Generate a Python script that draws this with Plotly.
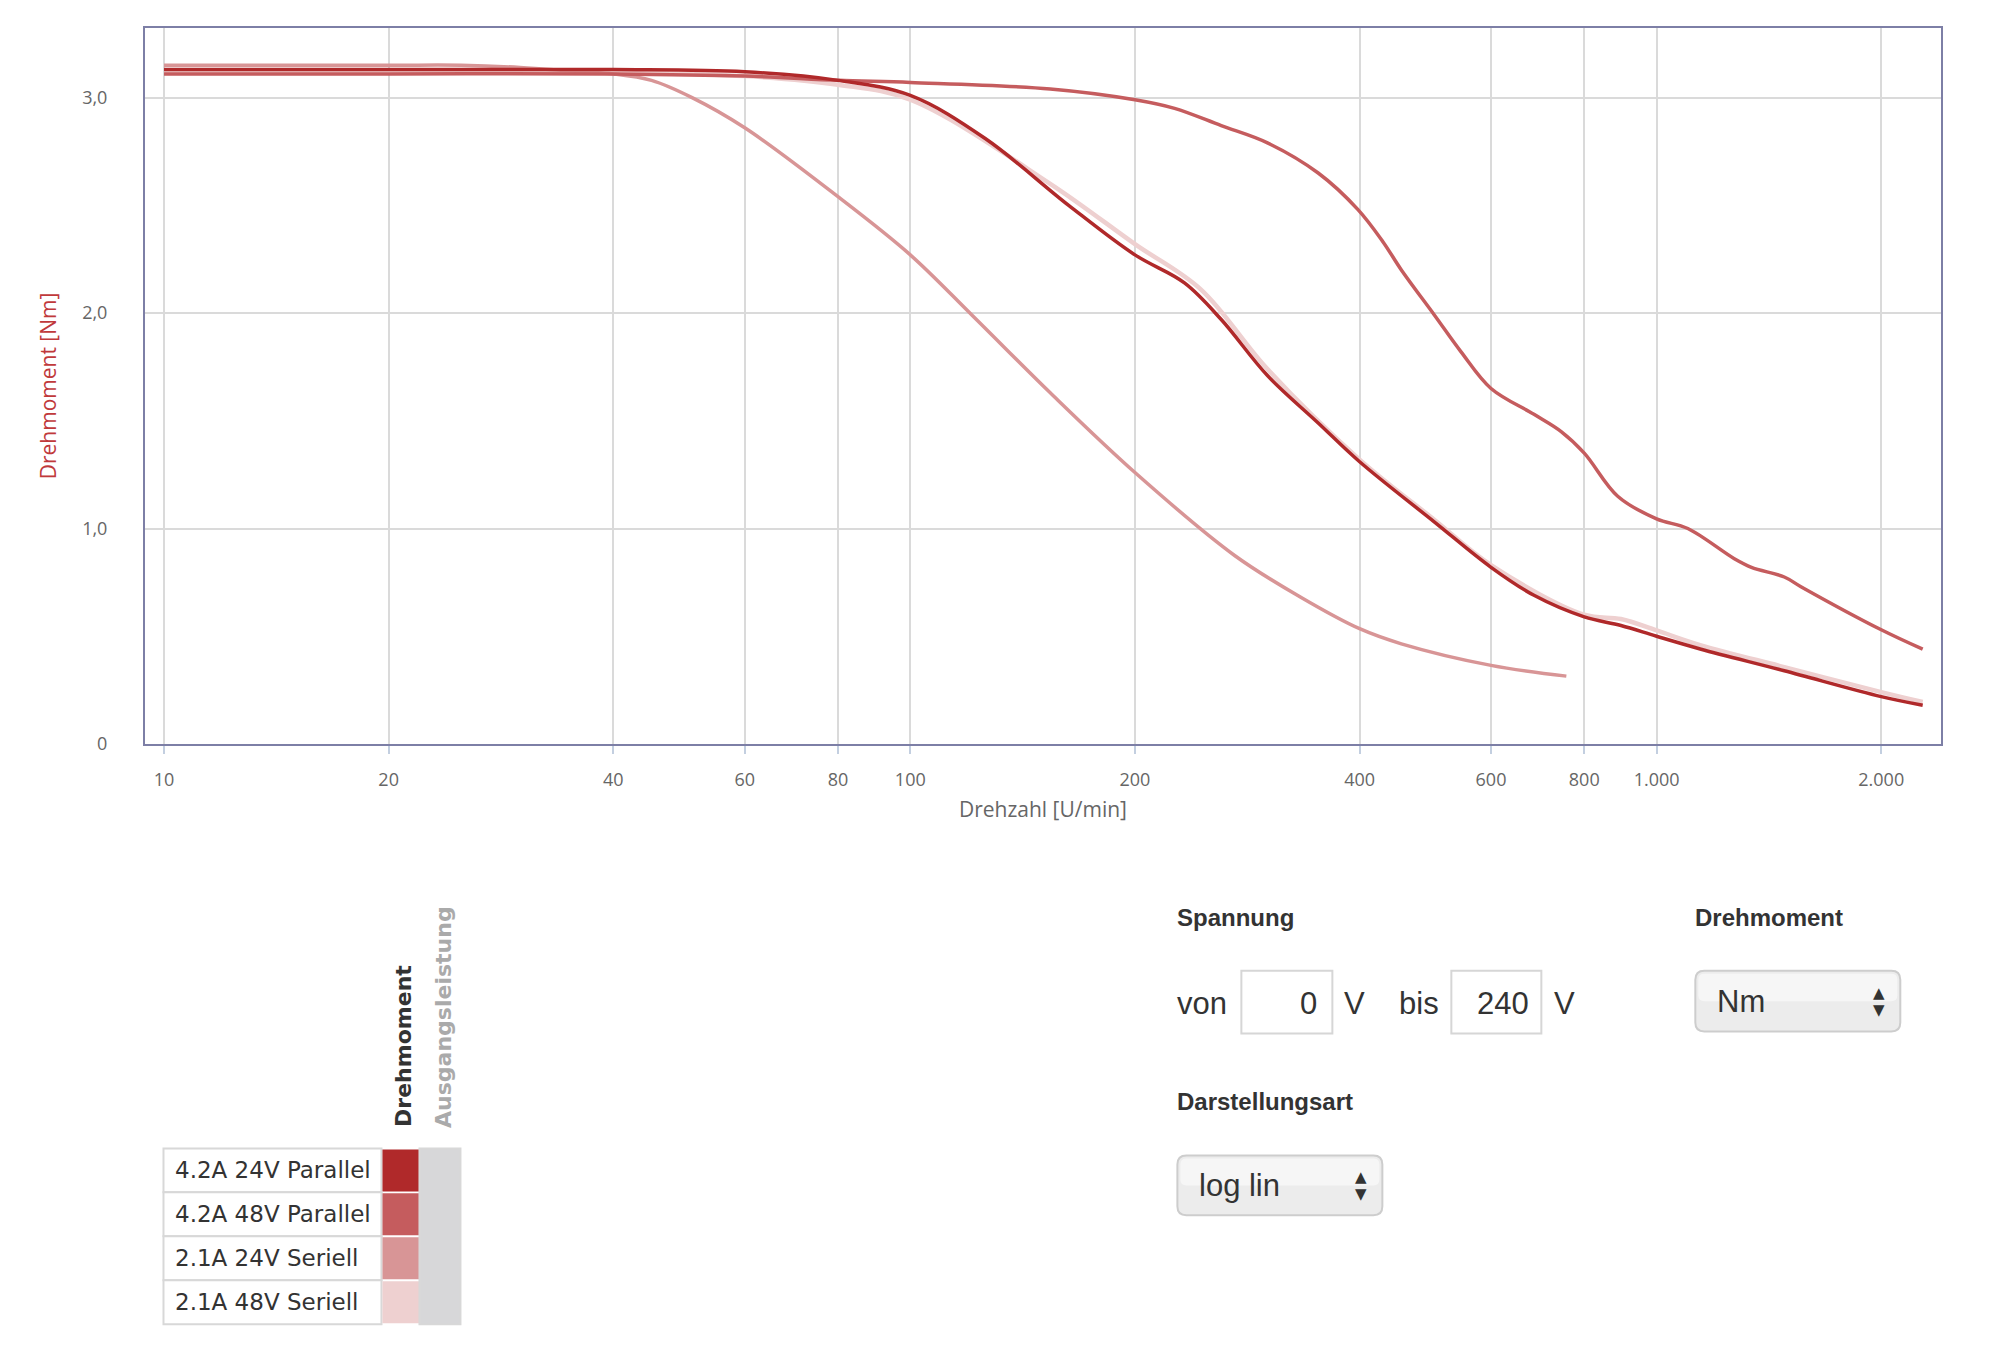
import math
import plotly.graph_objects as go

# Drehzahl [U/min] / Drehmoment [Nm] je Kennlinie
names = ["4.2A 24V Parallel", "4.2A 48V Parallel", "2.1A 24V Seriell", "2.1A 48V Seriell"]
colors = ["#b0292a", "#c55c5e", "#d89596", "#eed0d0"]

par24_x = [10, 20, 40, 60, 80, 100, 126, 163, 200, 233, 261, 301, 352, 400, 504, 600, 685, 800, 896, 1000, 1147, 1483, 2000, 2273]
par24_y = [3.13, 3.13, 3.13, 3.12, 3.08, 3.01, 2.81, 2.50, 2.27, 2.14, 1.97, 1.71, 1.49, 1.31, 1.03, 0.82, 0.69, 0.59, 0.55, 0.50, 0.44, 0.34, 0.22, 0.18]

par48_x = [10, 20, 40, 60, 80, 100, 154, 200, 226, 261, 301, 352, 398, 430, 455, 504, 547, 600, 685, 745, 800, 887, 1000, 1101, 1271, 1340, 1483, 1561, 2000, 2273]
par48_y = [3.11, 3.11, 3.11, 3.10, 3.08, 3.07, 3.04, 2.99, 2.95, 2.87, 2.79, 2.65, 2.48, 2.33, 2.20, 1.99, 1.82, 1.65, 1.53, 1.45, 1.35, 1.15, 1.045, 1.0, 0.86, 0.82, 0.775, 0.73, 0.53, 0.44]

ser24_x = [10, 20, 25, 30, 36, 40, 45, 51, 60, 80, 100, 121, 154, 200, 272, 334, 400, 455, 600, 757]
ser24_y = [3.15, 3.15, 3.15, 3.14, 3.12, 3.11, 3.08, 3.00, 2.86, 2.54, 2.27, 1.99, 1.63, 1.26, 0.875, 0.68, 0.535, 0.465, 0.365, 0.315]

ser48_x = [10, 20, 40, 60, 80, 100, 154, 200, 245, 301, 400, 504, 600, 800, 896, 1000, 1147, 1483, 2000, 2273]
ser48_y = [3.12, 3.12, 3.115, 3.10, 3.06, 2.99, 2.60, 2.32, 2.11, 1.74, 1.32, 1.04, 0.83, 0.60, 0.58, 0.527, 0.458, 0.357, 0.241, 0.195]

x_ticks = [10, 20, 40, 60, 80, 100, 200, 400, 600, 800, 1000, 2000]
x_labels = ["10", "20", "40", "60", "80", "100", "200", "400", "600", "800", "1.000", "2.000"]
y_ticks = [0, 1, 2, 3]
y_labels = ["0", "1,0", "2,0", "3,0"]

# page offset of the plot div (body margin) and plot area in screen pixels
OFF = 8
W, H = 2000 - 2 * OFF, 1358 - 2 * OFF
L, R, T, B = 144.5, 1940.7, 27.5, 744.5
DY = 2.5  # correction for the elements below the chart


def px(x):
    return (x - L) / (R - L)


def py(y):
    return (B - (y + DY)) / (B - T)


def rounded(x0, y0, x1, y1, r):
    return ("M {a},{b} L {c},{b} Q {d},{b} {d},{e} L {d},{f} Q {d},{g} {c},{g} "
            "L {a},{g} Q {h},{g} {h},{f} L {h},{e} Q {h},{b} {a},{b} Z").format(
        a=px(x0 + r), b=py(y0), c=px(x1 - r), d=px(x1), e=py(y0 + r),
        f=py(y1 - r), g=py(y1), h=px(x0))


fig = go.Figure()
series = [(ser48_x, ser48_y, 3), (ser24_x, ser24_y, 2), (par48_x, par48_y, 1), (par24_x, par24_y, 0)]
for xs, ys, i in series:
    fig.add_trace(go.Scatter(x=xs, y=ys, mode="lines", name=names[i],
                             line=dict(color=colors[i], width=4.5 if i == 3 else 3.5, shape="spline")))

fig.update_xaxes(type="log", range=[math.log10(9.43), math.log10(2405)],
                 tickvals=x_ticks, ticktext=x_labels,
                 showgrid=True, gridcolor="#dadada", gridwidth=2,
                 ticks="outside", ticklen=8, tickcolor="#c3cfe0", tickwidth=2,
                 ticklabelstandoff=10,
                 showline=True, mirror=True, linecolor="#7d7fa6", linewidth=2,
                 tickfont=dict(family="Open Sans", size=18, color="#666666"),
                 title=dict(text="Drehzahl [U/min]", standoff=13,
                            font=dict(family="Open Sans", size=21, color="#666666")))
fig.update_yaxes(range=[0, 3.323], tickvals=y_ticks, ticktext=y_labels,
                 showgrid=True, gridcolor="#dadada", gridwidth=2, zeroline=False,
                 ticklabelstandoff=32,
                 showline=True, mirror=True, linecolor="#7d7fa6", linewidth=2,
                 tickfont=dict(family="Open Sans", size=18, color="#666666"),
                 title=dict(text="Drehmoment [Nm]", standoff=20,
                            font=dict(family="Open Sans", size=21, color="#c0393b")))

shapes = []
ann = []

# Legendentabelle
row_h = (1323 - 1147) / 4
for i, n in enumerate(names):
    y0 = 1147 + i * row_h
    y1 = y0 + row_h
    shapes.append(dict(type="rect", xref="paper", yref="paper", x0=px(163), x1=px(381), y0=py(y0), y1=py(y1),
                       fillcolor="white", line=dict(color="#d8d8d8", width=2)))
    shapes.append(dict(type="rect", xref="paper", yref="paper", x0=px(382), x1=px(419), y0=py(y0 + 1), y1=py(y1 - 1),
                       fillcolor=colors[i], line=dict(width=0)))
    ann.append(dict(x=px(173), y=py((y0 + y1) / 2), text=n, xanchor="left", yanchor="middle",
                    font=dict(family="DejaVu Sans", size=23, color="#333333")))
shapes.append(dict(type="rect", xref="paper", yref="paper", x0=px(419), x1=px(460), y0=py(1147), y1=py(1323),
                   fillcolor="#d7d7d9", line=dict(color="#d8d8d8", width=2)))
ann.append(dict(x=px(403), y=py(1127), text="<b>Drehmoment</b>", textangle=-90, xanchor="center", yanchor="bottom",
                font=dict(family="DejaVu Sans", size=22, color="#333333")))
ann.append(dict(x=px(443), y=py(1128), text="<b>Ausgangsleistung</b>", textangle=-90, xanchor="center", yanchor="bottom",
                font=dict(family="DejaVu Sans", size=22, color="#aaaaaa")))

# Bedienelemente
head = dict(family="Liberation Sans", size=24, color="#333333")
body = dict(family="Liberation Sans", size=31, color="#333333")
ann.append(dict(x=px(1175), y=py(916), text="<b>Spannung</b>", xanchor="left", yanchor="middle", font=head))
ann.append(dict(x=px(1693), y=py(916), text="<b>Drehmoment</b>", xanchor="left", yanchor="middle", font=head))
ann.append(dict(x=px(1175), y=py(1100), text="<b>Darstellungsart</b>", xanchor="left", yanchor="middle", font=head))

for x0, x1 in [(1241, 1332), (1451, 1541)]:
    shapes.append(dict(type="rect", xref="paper", yref="paper", x0=px(x0), x1=px(x1), y0=py(969), y1=py(1032),
                       fillcolor="white", line=dict(color="#d6d6d6", width=2)))
ann.append(dict(x=px(1175), y=py(1002), text="von", xanchor="left", yanchor="middle", font=body))
ann.append(dict(x=px(1319), y=py(1002), text="0", xanchor="right", yanchor="middle", font=body))
ann.append(dict(x=px(1342), y=py(1002), text="V", xanchor="left", yanchor="middle", font=body))
ann.append(dict(x=px(1397), y=py(1002), text="bis", xanchor="left", yanchor="middle", font=body))
ann.append(dict(x=px(1531), y=py(1002), text="240", xanchor="right", yanchor="middle", font=body))
ann.append(dict(x=px(1552), y=py(1002), text="V", xanchor="left", yanchor="middle", font=body))

for (x0, y0, x1, y1), label in [((1695, 969, 1900, 1030), "Nm"), ((1177, 1154, 1382, 1214), "log lin")]:
    shapes.append(dict(type="path", xref="paper", yref="paper", path=rounded(x0, y0, x1, y1, 9),
                       fillcolor="#ececec", line=dict(color="#cdcdcd", width=2)))
    shapes.append(dict(type="path", xref="paper", yref="paper", path=rounded(x0 + 3, y0 + 3, x1 - 3, (y0 + y1) / 2, 6),
                       fillcolor="#f6f6f6", line=dict(width=0)))
    cy = (y0 + y1) / 2
    ann.append(dict(x=px(x0 + 20), y=py(cy), text=label, xanchor="left", yanchor="middle", font=body))
    ann.append(dict(x=px(x1 - 21), y=py(cy - 8), text="▲", xanchor="center", yanchor="middle",
                    font=dict(family="DejaVu Sans", size=15, color="#333333")))
    ann.append(dict(x=px(x1 - 21), y=py(cy + 9), text="▼", xanchor="center", yanchor="middle",
                    font=dict(family="DejaVu Sans", size=15, color="#333333")))

for a in ann:
    a.update(xref="paper", yref="paper", showarrow=False)

fig.update_layout(width=W, height=H, showlegend=False,
                  margin=dict(l=L - OFF, r=W - (R - OFF), t=T - OFF, b=H - (B - OFF)),
                  plot_bgcolor="white", paper_bgcolor="white",
                  shapes=shapes, annotations=ann)
fig.write_html("out.html")
